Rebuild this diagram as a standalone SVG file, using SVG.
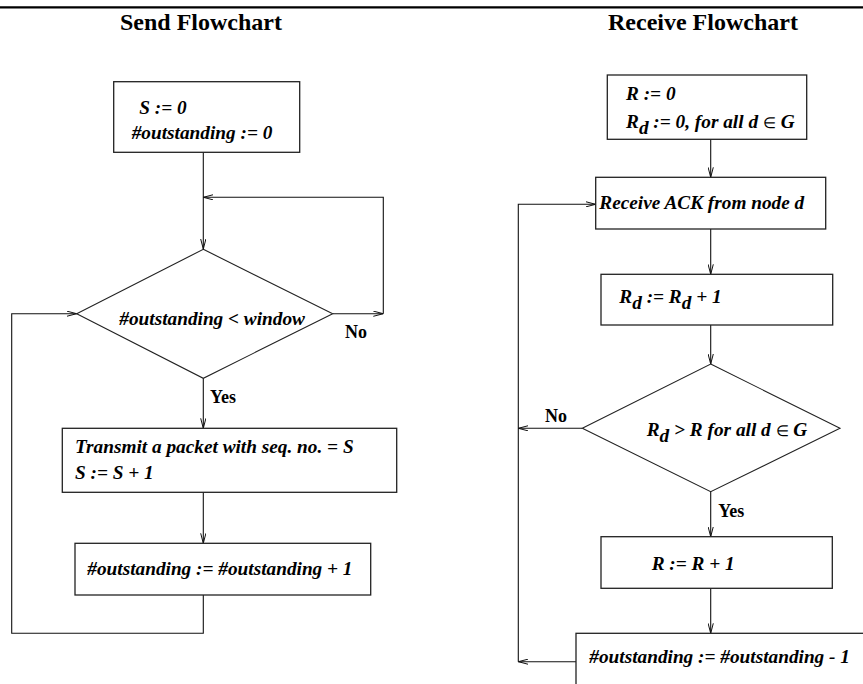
<svg xmlns="http://www.w3.org/2000/svg" width="863" height="684" viewBox="0 0 863 684">
  <defs>
    <style>
      .box { fill: #fff; stroke: #222; stroke-width: 1.3; }
      .dia { fill: #fff; stroke: #222; stroke-width: 1.1; }
      .conn { fill: none; stroke: #111; stroke-width: 1.1; }
      .t { font-family: "Liberation Serif", "Times New Roman", serif; font-weight: bold; font-style: italic; font-size: 19.3px; fill: #000; }
      .lbl { font-family: "Liberation Serif", "Times New Roman", serif; font-weight: bold; font-size: 18px; fill: #000; }
      .title { font-family: "Liberation Serif", "Times New Roman", serif; font-weight: bold; font-size: 24px; fill: #000; }
      .sym { font-style: normal; font-weight: normal; font-size: 15px; }
    </style>
    <marker id="arr" viewBox="0 0 10 6" refX="10" refY="3" markerWidth="10" markerHeight="6" markerUnits="userSpaceOnUse" orient="auto">
      <path d="M0,0.4 L10,3 L0,5.6" fill="none" stroke="#111" stroke-width="1"/>
    </marker>
  </defs>

  <rect width="863" height="684" fill="#fff"/>

  <!-- header rule and titles -->
  <line x1="0" y1="7.3" x2="863" y2="7.3" stroke="#000" stroke-width="2.2"/>
  <text class="title" x="120" y="30">Send Flowchart</text>
  <text class="title" x="608" y="30">Receive Flowchart</text>

  <!-- connectors -->
  <g id="connectors">
    <!-- send side -->
    <path class="conn" d="M203.3,152.3 V249" marker-end="url(#arr)"/>
    <path class="conn" d="M332.7,313.7 H383.3" marker-end="url(#arr)"/>
    <path class="conn" d="M383.3,313.7 V197.3 H203.3" marker-end="url(#arr)"/>
    <path class="conn" d="M203.3,378.3 V428.3" marker-end="url(#arr)"/>
    <path class="conn" d="M203.3,492.3 V543.3" marker-end="url(#arr)"/>
    <path class="conn" d="M203.3,595 V633.3 H11.7 V313.7 H76.7" marker-end="url(#arr)"/>
    <!-- receive side -->
    <path class="conn" d="M710.7,139.3 V177.3" marker-end="url(#arr)"/>
    <path class="conn" d="M710.7,229 V274.3" marker-end="url(#arr)"/>
    <path class="conn" d="M710.7,325 V364" marker-end="url(#arr)"/>
    <path class="conn" d="M710.7,491.7 V536.7" marker-end="url(#arr)"/>
    <path class="conn" d="M710.7,588.3 V633.3" marker-end="url(#arr)"/>
    <path class="conn" d="M582.3,428.3 H518.3" marker-end="url(#arr)"/>
    <path class="conn" d="M576,661.7 H518.3" marker-end="url(#arr)"/>
    <path class="conn" d="M518.3,661.7 V204.3 H595.7" marker-end="url(#arr)"/>
  </g>

  <!-- send flowchart nodes -->
  <g id="send-init">
    <rect class="box" x="113.7" y="81.7" width="186" height="70.6"/>
    <text class="t" x="139.3" y="114">S := 0</text>
    <text class="t" x="131.7" y="139">#outstanding := 0</text>
  </g>
  <g id="send-check">
    <polygon class="dia" points="203.3,249.3 332.7,313.7 203.3,378.3 76.7,313.7"/>
    <text class="t" x="119.3" y="325">#outstanding &lt; window</text>
  </g>
  <g id="send-transmit">
    <rect class="box" x="62.3" y="428.3" width="334.4" height="64"/>
    <text class="t" x="75" y="453.3">Transmit a packet with seq. no. = S</text>
    <text class="t" x="75" y="479">S := S + 1</text>
  </g>
  <g id="send-count">
    <rect class="box" x="75" y="543.3" width="295.7" height="51.7"/>
    <text class="t" x="87.3" y="575">#outstanding := #outstanding + 1</text>
  </g>
  <text class="lbl" x="345" y="337.7">No</text>
  <text class="lbl" x="210" y="402.7">Yes</text>

  <!-- receive flowchart nodes -->
  <g id="recv-init">
    <rect class="box" x="607.3" y="75" width="199.4" height="64.3"/>
    <text class="t" x="626" y="100">R := 0</text>
    <text class="t" x="626" y="128.3">R<tspan dy="6">d</tspan><tspan dy="-6"> := 0, for all d </tspan><tspan class="sym">∈</tspan> G</text>
  </g>
  <g id="recv-ack">
    <rect class="box" x="595.7" y="177.3" width="230" height="51.7"/>
    <text class="t" x="599.3" y="209.3">Receive ACK from node d</text>
  </g>
  <g id="recv-inc">
    <rect class="box" x="601" y="274.3" width="231.7" height="50.7"/>
    <text class="t" x="619.3" y="302.7">R<tspan dy="6">d</tspan><tspan dy="-6"> := R</tspan><tspan dy="6">d</tspan><tspan dy="-6"> + 1</tspan></text>
  </g>
  <g id="recv-check">
    <polygon class="dia" points="710.7,364 840,428.3 710.7,491.7 582.3,428.3"/>
    <text class="t" x="646.7" y="436">R<tspan dy="6">d</tspan><tspan dy="-6"> &gt; R for all d </tspan><tspan class="sym">∈</tspan> G</text>
  </g>
  <g id="recv-advance">
    <rect class="box" x="601" y="536.7" width="231.3" height="51.6"/>
    <text class="t" x="651.7" y="570">R := R + 1</text>
  </g>
  <g id="recv-count">
    <rect class="box" x="576" y="633.3" width="310" height="80"/>
    <text class="t" x="589.3" y="663.3">#outstanding := #outstanding - 1</text>
  </g>
  <text class="lbl" x="545" y="421.7">No</text>
  <text class="lbl" x="718.3" y="516.7">Yes</text>
</svg>
